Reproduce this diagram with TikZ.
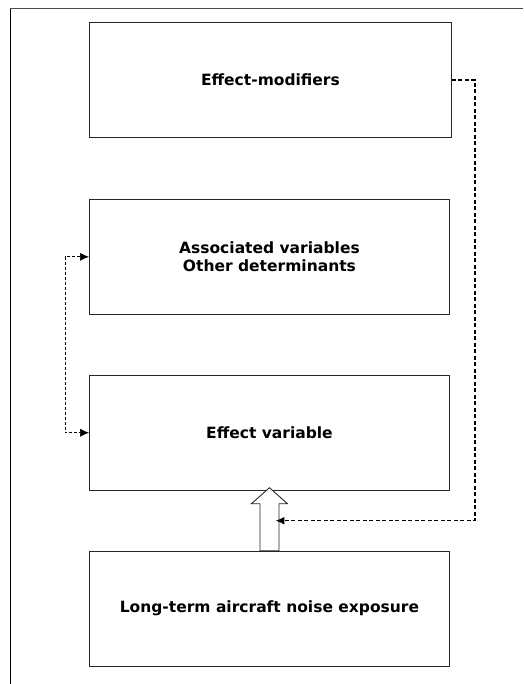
\documentclass[tikz,border=0pt]{standalone}
\usepackage{fontspec}
\setmainfont{DejaVu Sans}
\usetikzlibrary{arrows.meta, positioning}
\tikzstyle{factor} = [rectangle, minimum width=360pt, minimum height=115pt, text centered, align=center, draw=black!85, line width=0.9pt, font=\fontsize{15.5}{18.7}\selectfont\bfseries]
\tikzstyle{link} = [line width=1.5pt, dash pattern=on 4pt off 2.5pt, -{Latex[length=9pt,width=8pt]}]
\tikzstyle{assoclink} = [line width=0.7pt, dash pattern=on 3pt off 2pt, {Latex[length=9pt,width=8pt]}-{Latex[length=9pt,width=8pt]}]
\tikzstyle{hollow} = [draw=black!85, fill=white, line width=0.9pt]

\begin{document}
\begin{tikzpicture}[node distance=60pt]

\useasboundingbox (0,0) rectangle (523pt,-684pt);
\draw [line width=0.9pt] (10pt,-684pt) -- (10pt,-8pt);
\draw [line width=0.9pt, black!70] (10pt,-8pt) -- (523pt,-8pt);

\node (modifiers) [factor, minimum width=362pt, anchor=north west] at (89pt,-22pt) {Effect-modifiers};
\node (assoc) [factor, below=61pt of modifiers.south west, anchor=north west] {Associated variables\\Other determinants};
\node (effect) [factor, below=of assoc] {Effect variable};
\node (exposure) [factor, below=of effect] {Long-term aircraft noise exposure};

\coordinate (feedin) at ([xshift=6pt, yshift=30pt]exposure.north);

\draw [hollow] ([xshift=-9.5pt]exposure.north) -- ++(0,47pt) -- ++(-8.5pt,0) -- ++(18pt,16pt) -- ++(18pt,-16pt) -- ++(-8.5pt,0) -- ++(0,-47pt) -- cycle;
\draw [link] (modifiers.east) -- ++(23pt,0) |- (feedin);
\draw [assoclink] (assoc.west) -- ++(-24pt,0) |- (effect.west);

\end{tikzpicture}
\end{document}
